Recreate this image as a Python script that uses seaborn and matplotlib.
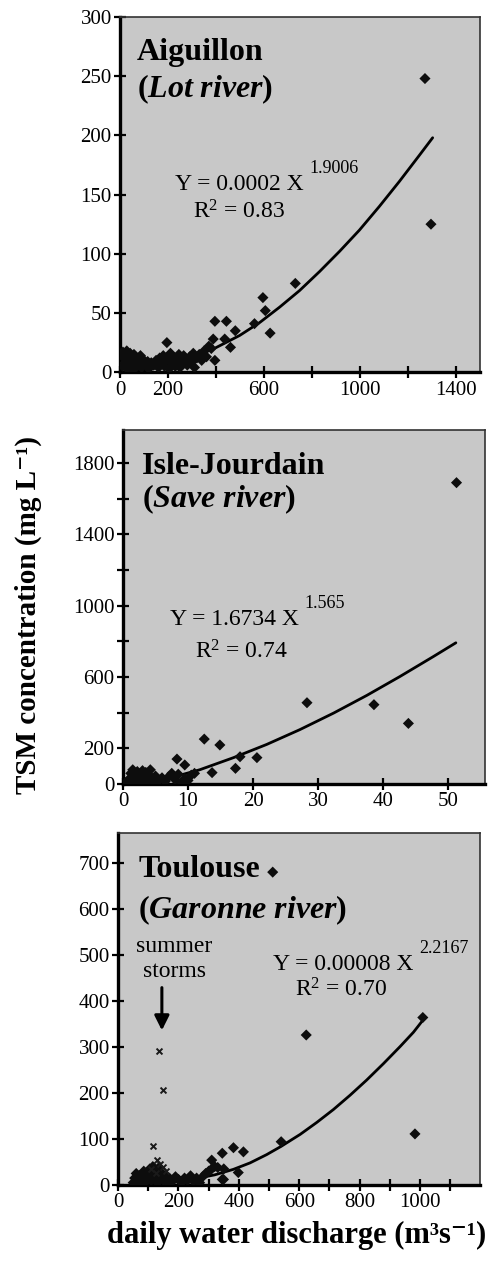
import matplotlib

matplotlib.use("Agg")
import matplotlib.pyplot as plt
import pandas as pd
import seaborn as sns

# --- Aiguillon (Lot river) ---
aig_q = [10, 15, 20, 25, 30, 35, 40, 45, 50, 55, 60, 65, 70, 75, 80, 90, 95, 100, 110, 115,
         120, 130, 140, 150, 160, 165, 170, 180, 185, 190, 200, 205, 210, 215, 220, 230, 240,
         245, 250, 260, 265, 270, 280, 290, 300, 305, 310, 320, 330, 340, 350, 360, 370, 380,
         5, 12, 28, 42, 58, 85, 195, 388, 395, 395, 436, 443, 460, 480, 560, 595, 605, 625, 730, 1270, 1295]
aig_tsm = [5, 12, 8, 15, 3, 10, 14, 6, 11, 2, 9, 13, 5, 8, 12, 4, 7, 10, 5, 9,
           3, 8, 6, 10, 4, 12, 7, 14, 5, 9, 11, 3, 16, 7, 12, 5, 10,
           15, 4, 8, 14, 11, 6, 13, 9, 16, 4, 12, 15, 10, 18, 13, 22, 20,
           16, 17, 18, 16, 15, 14, 25, 28, 10, 43, 28, 43, 21, 35, 41, 63, 52, 33, 75, 248, 125]
aig_fit_q = [10, 100, 200, 300, 402, 498, 582, 665, 748, 831, 914, 997, 1080, 1163, 1246, 1302]
aig_fit_tsm = [0.1, 1.5, 6, 12, 21, 31, 42, 55, 69, 85, 102, 120, 140, 161, 183, 198]

# --- Isle-Jourdain (Save river) ---
isle_q = [0.5, 1.0, 1.2, 1.5, 1.8, 2.0, 2.2, 2.5, 2.8, 3.0, 3.2, 3.5, 3.8, 4.0, 4.2, 4.5, 4.8,
          5.0, 5.5, 6.0, 6.5, 7.0, 7.5, 8.0, 8.5, 9.0, 9.5, 10.0, 10.5, 11.0, 1.5, 3.0, 2.6,
          8.3, 9.5, 12.5, 13.7, 14.9, 17.3, 18.0, 20.6, 28.3, 38.6, 43.9, 51.3]
isle_tsm = [10, 30, 60, 15, 45, 5, 70, 25, 55, 10, 40, 65, 20, 50, 80, 30, 10,
            45, 20, 35, 15, 40, 60, 25, 55, 10, 30, 20, 50, 60, 80, 75, 0,
            140, 107, 252, 64, 219, 88, 153, 148, 456, 445, 340, 1690]
isle_fit_q = [0.5, 2, 4, 6, 8.3, 11.8, 17, 22.1, 27.2, 32.4, 37.5, 42.6, 47.7, 51.2]
isle_fit_tsm = [0.6, 5, 14, 28, 45, 80, 148, 222, 305, 398, 497, 603, 714, 792]

# --- Toulouse (Garonne river) ---
tls_q = [50, 55, 60, 65, 70, 75, 80, 85, 90, 95, 100, 105, 110, 115, 120, 125, 130, 135, 140,
         145, 150, 160, 165, 170, 180, 190, 200, 210, 220, 230, 240, 250, 260, 270, 280, 290,
         300, 310, 320, 330, 345, 350, 310, 345, 349, 382, 398, 415, 512, 540, 623, 983, 1009]
tls_tsm = [5, 15, 25, 8, 20, 3, 12, 30, 6, 18, 25, 35, 10, 40, 20, 30, 5, 38, 15,
           25, 10, 20, 5, 15, 8, 18, 12, 5, 15, 10, 20, 8, 15, 5, 18, 25,
           30, 35, 40, 38, 12, 35, 54, 69, 12, 81, 27, 72, 680, 94, 326, 111, 364]
storm_q = [135, 148, 117, 128, 140, 150, 110, 160, 125]
storm_tsm = [292, 207, 85, 55, 45, 40, 35, 30, 25]
tls_fit_q = [50, 150, 250, 320, 382, 437, 492, 540, 603, 658, 713, 768, 823, 879, 934, 978, 1009]
tls_fit_tsm = [0.5, 5, 13, 22, 34, 48, 66, 84, 110, 136, 164, 195, 228, 264, 301, 332, 358]

PANEL_BG = "#c8c8c8"
SERIF = ["Liberation Serif", "DejaVu Serif"]


def style_axes(ax, xlim, ylim, xticks, xlabels, yticks, ylabels):
    ax.set_facecolor(PANEL_BG)
    ax.set_xlim(*xlim)
    ax.set_ylim(*ylim)
    ax.set_xticks(xticks)
    ax.set_xticklabels(xlabels)
    ax.set_yticks(yticks)
    ax.set_yticklabels(ylabels)
    ax.set_xlabel("")
    ax.set_ylabel("")
    for side in ["left", "bottom"]:
        ax.spines[side].set_linewidth(2.4)
        ax.spines[side].set_color("black")
    for side in ["top", "right"]:
        ax.spines[side].set_visible(True)
        ax.spines[side].set_linewidth(1.2)
        ax.spines[side].set_color("#333333")
    ax.tick_params(direction="inout", length=8, width=1.6, labelsize=15, pad=2, colors="black")


def draw_points(ax, q, tsm, fit_q, fit_tsm):
    points = pd.DataFrame({"q": q, "tsm": tsm})
    fit = pd.DataFrame({"q": fit_q, "tsm": fit_tsm})
    sns.lineplot(data=fit, x="q", y="tsm", sort=False, estimator=None, color="black", linewidth=2.0, ax=ax)
    sns.scatterplot(data=points, x="q", y="tsm", marker="D", s=32, color="#0d0d0d", edgecolor="none", ax=ax, zorder=3)


def label_panel(ax, site, river, title_y, river_y, title_x):
    ax.text(title_x, title_y, site, transform=ax.transAxes, fontsize=23, fontweight="bold", va="baseline", family=SERIF)
    ax.text(title_x, river_y, r"$\mathbf{(}\mathbfit{" + river.replace(" ", r"\ ") + r"}\mathbf{)}$",
            transform=ax.transAxes, fontsize=23, va="baseline")


def label_fit(ax, eq, eq_xy, exponent, r2, r2_xy):
    eq_text = ax.text(*eq_xy, eq, transform=ax.transAxes, fontsize=17, va="baseline", family=SERIF)
    ax.annotate(exponent, xy=(1, 0), xycoords=eq_text, xytext=(4, 16), textcoords="offset points",
                fontsize=13, va="baseline", family=SERIF)
    ax.text(*r2_xy, r"R$^2$ = " + r2, transform=ax.transAxes, fontsize=17, va="baseline", family=SERIF)


def main() -> None:
    sns.set_style("ticks")
    plt.rcParams["font.family"] = SERIF
    plt.rcParams["text.color"] = "black"
    plt.rcParams["axes.labelcolor"] = "black"
    plt.rcParams["xtick.color"] = "black"
    plt.rcParams["ytick.color"] = "black"
    plt.rcParams["mathtext.fontset"] = "custom"
    plt.rcParams["mathtext.rm"] = "Liberation Serif"
    plt.rcParams["mathtext.it"] = "Liberation Serif:italic"
    plt.rcParams["mathtext.bf"] = "Liberation Serif:bold"
    plt.rcParams["mathtext.bfit"] = "Liberation Serif:bold:italic"

    fig = plt.figure(figsize=(4.92, 12.66), dpi=100)
    ax_top = fig.add_axes([0.244, 0.706, 0.732, 0.2806])
    ax_mid = fig.add_axes([0.250, 0.3807, 0.736, 0.2796])
    ax_bot = fig.add_axes([0.240, 0.064, 0.736, 0.278])

    # Aiguillon
    draw_points(ax_top, aig_q, aig_tsm, aig_fit_q, aig_fit_tsm)
    style_axes(ax_top, (0, 1500), (0, 300),
               [0, 200, 400, 600, 800, 1000, 1200, 1400], ["0", "200", "", "600", "", "1000", "", "1400"],
               [0, 50, 100, 150, 200, 250, 300], ["0", "50", "100", "150", "200", "250", "300"])
    label_panel(ax_top, "Aiguillon", "Lot river", 0.879, 0.775, 0.047)
    label_fit(ax_top, "Y = 0.0002 X", (0.153, 0.513), "1.9006", "0.83", (0.203, 0.434))

    # Isle-Jourdain
    draw_points(ax_mid, isle_q, isle_tsm, isle_fit_q, isle_fit_tsm)
    style_axes(ax_mid, (0, 55.7), (0, 1985),
               [0, 10, 20, 30, 40, 50], ["0", "10", "20", "30", "40", "50"],
               [0, 200, 400, 600, 800, 1000, 1200, 1400, 1600, 1800],
               ["0", "200", "", "600", "", "1000", "", "1400", "", "1800"])
    label_panel(ax_mid, "Isle-Jourdain", "Save river", 0.876, 0.783, 0.052)
    label_fit(ax_mid, "Y = 1.6734 X", (0.13, 0.449), "1.565", "0.74", (0.199, 0.355))

    # Toulouse
    draw_points(ax_bot, tls_q, tls_tsm, tls_fit_q, tls_fit_tsm)
    storms = pd.DataFrame({"q": storm_q, "tsm": storm_tsm})
    sns.scatterplot(data=storms, x="q", y="tsm", marker="x", s=18, color="#1a1a1a", linewidth=1.4, ax=ax_bot, zorder=4)
    style_axes(ax_bot, (0, 1199), (0, 765),
               [0, 100, 200, 300, 400, 500, 600, 700, 800, 900, 1000, 1100],
               ["0", "", "200", "", "400", "", "600", "", "800", "", "1000", ""],
               [0, 100, 200, 300, 400, 500, 600, 700], ["0", "100", "200", "300", "400", "500", "600", "700"])
    label_panel(ax_bot, "Toulouse", "Garonne river", 0.876, 0.758, 0.056)
    label_fit(ax_bot, "Y = 0.00008 X", (0.429, 0.611), "2.2167", "0.70", (0.489, 0.535))
    ax_bot.text(0.155, 0.663, "summer", transform=ax_bot.transAxes, fontsize=17, ha="center", va="baseline", family=SERIF)
    ax_bot.text(0.155, 0.592, "storms", transform=ax_bot.transAxes, fontsize=17, ha="center", va="baseline", family=SERIF)
    ax_bot.annotate("", xy=(145, 330), xytext=(145, 435),
                    arrowprops=dict(arrowstyle="-|>", lw=2.2, color="black", mutation_scale=22))

    fig.text(0.057, 0.514, "TSM concentration (mg L⁻¹)", rotation=90, fontsize=21,
             fontweight="bold", ha="center", va="center")
    fig.text(0.602, 0.018, "daily water discharge (m³s⁻¹)", fontsize=22,
             fontweight="bold", ha="center", va="baseline")

    fig.savefig("out.png", dpi=100)


if __name__ == "__main__":
    main()
